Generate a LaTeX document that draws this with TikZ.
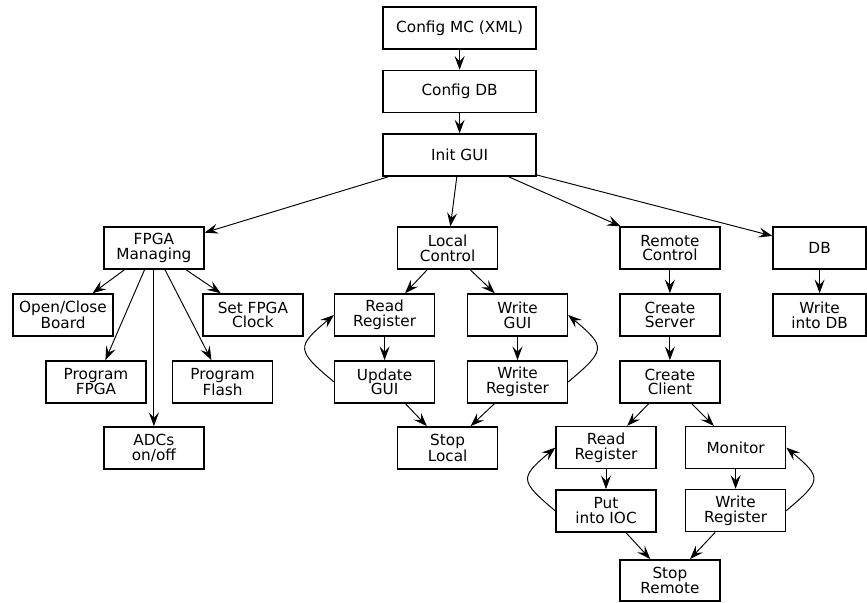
\documentclass[tikz,border=0pt]{standalone}
\usepackage{fontspec}
\setmainfont{DejaVu Sans}
\usetikzlibrary{arrows.meta,positioning}
\tikzset{
  stepbox/.style={rectangle,draw=black,line width=1.4pt,align=center,minimum width=3.33cm,minimum height=1.4cm,inner sep=2pt,font=\fontsize{14.5pt}{14pt}\selectfont},
  widebox/.style={stepbox,minimum width=5.1cm},
  arr/.style={-{Stealth[length=13pt,width=9.5pt,inset=5pt]},line width=0.9pt},
  looparr/.style={arr,looseness=1.9}
}
\begin{document}
\begin{tikzpicture}
  \useasboundingbox (0,0) rectangle (28.9,-20.07);

  % start chain
  \node[widebox] (cfgmc) at (15.32,-0.93) {Config MC (XML)};
  \node[widebox] (cfgdb) at (15.32,-3.05) {Config DB};
  \node[widebox] (initgui) at (15.32,-5.17) {Init GUI};

  \node[stepbox] (fpga) at (5.13,-8.27) {FPGA\\Managing};
  \node[stepbox] (localctl) at (14.92,-8.27) {Local\\Control};
  \node[stepbox] (remotectl) at (22.33,-8.27) {Remote\\Control};
  \node[stepbox,minimum width=3.1cm] (db) at (27.32,-8.27) {DB};

  % FPGA branch
  \node[stepbox] (openclose) at (2.1,-10.5) {Open/Close\\Board};
  \node[stepbox] (setclock) at (8.43,-10.5) {Set FPGA\\Clock};
  \node[stepbox] (progfpga) at (3.2,-12.73) {Program\\FPGA};
  \node[stepbox] (progflash) at (7.42,-12.73) {Program\\Flash};
  \node[stepbox] (adcs) at (5.13,-14.93) {ADCs\\on/off};

  % local branch
  \node[stepbox] (lread) at (12.82,-10.5) {Read\\Register};
  \node[stepbox] (lwritegui) at (17.25,-10.5) {Write\\GUI};
  \node[stepbox] (lupdate) at (12.82,-12.73) {Update\\GUI};
  \node[stepbox] (lwritereg) at (17.25,-12.73) {Write\\Register};
  \node[stepbox] (stoplocal) at (14.92,-14.93) {Stop\\Local};

  % remote branch
  \node[stepbox] (server) at (22.33,-10.5) {Create\\Server};
  \node[stepbox] (client) at (22.33,-12.73) {Create\\Client};
  \node[stepbox] (rread) at (20.2,-14.92) {Read\\Register};
  \node[stepbox] (monitor) at (24.52,-14.92) {Monitor};
  \node[stepbox] (putioc) at (20.2,-17.03) {Put\\into IOC};
  \node[stepbox] (rwrite) at (24.52,-17.02) {Write\\Register};
  \node[stepbox,minimum height=1.38cm] (stopremote) at (22.33,-19.35) {Stop\\Remote};

  % DB branch
  \node[stepbox,minimum width=3.1cm] (writedb) at (27.32,-10.5) {Write\\into DB};

  \draw[arr] (cfgmc) -- (cfgdb);
  \draw[arr] (cfgdb) -- (initgui);
  \draw[arr] (initgui) -- (fpga);
  \draw[arr] (initgui) -- (localctl);
  \draw[arr] (initgui) -- (remotectl);
  \draw[arr] (initgui) -- (db);

  \draw[arr] (fpga) -- (openclose);
  \draw[arr] (fpga) -- (setclock);
  \draw[arr] (fpga) -- (progfpga);
  \draw[arr] (fpga) -- (progflash);
  \draw[arr] (fpga) -- (adcs);

  \draw[arr] (localctl) -- (lread);
  \draw[arr] (localctl) -- (lwritegui);
  \draw[arr] (lread) -- (lupdate);
  \draw[arr] (lwritegui) -- (lwritereg);
  \draw[arr] (lupdate) -- (stoplocal);
  \draw[arr] (lwritereg) -- (stoplocal);
  \draw[looparr] (lupdate.west) to[out=140,in=-140] (lread.west);
  \draw[looparr] (lwritereg.east) to[out=40,in=-40] (lwritegui.east);

  \draw[arr] (remotectl) -- (server);
  \draw[arr] (server) -- (client);
  \draw[arr] (client) -- (rread);
  \draw[arr] (client) -- (monitor);
  \draw[arr] (rread) -- (putioc);
  \draw[arr] (monitor) -- (rwrite);
  \draw[arr] (putioc) -- (stopremote);
  \draw[arr] (rwrite) -- (stopremote);
  \draw[looparr] (putioc.west) to[out=140,in=-140] (rread.west);
  \draw[looparr] (rwrite.east) to[out=40,in=-40] (monitor.east);

  \draw[arr] (db) -- (writedb);
\end{tikzpicture}
\end{document}
